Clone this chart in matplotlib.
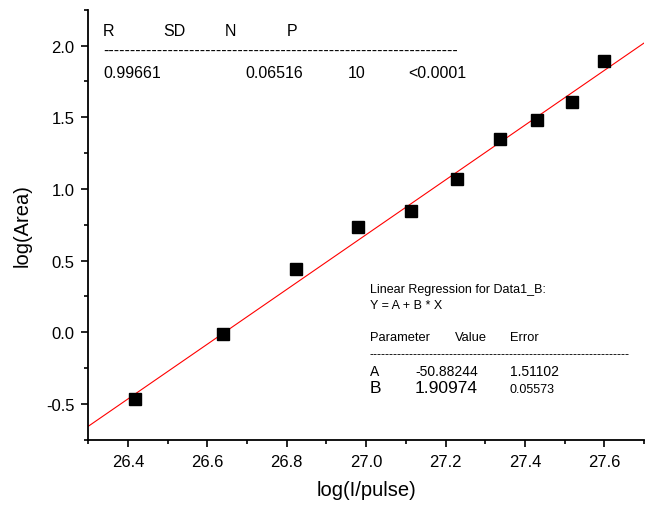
import numpy as np
import matplotlib
matplotlib.use('Agg')
from matplotlib import pyplot as plt
from matplotlib.ticker import MultipleLocator

plt.rcParams['font.family'] = ['Liberation Sans', 'DejaVu Sans']

# data
log_pulse = [26.417, 26.640, 26.824, 26.979, 27.112, 27.230, 27.336, 27.431, 27.519, 27.599]
log_area = [-0.467, -0.015, 0.441, 0.731, 0.849, 1.072, 1.350, 1.477, 1.604, 1.892]

# fit results shown on the chart
fit_A = -50.88244
fit_B = 1.90974
fit_A_err = 1.51102
fit_B_err = 0.05573
fit_R = 0.99661
fit_SD = 0.06516
fit_N = 10
fit_P = '<0.0001'

W, H = 646, 506
fig = plt.figure(figsize=(W / 100, H / 100), dpi=100)
ax = fig.add_axes([88.3 / W, 1 - 440.7 / H, (644 - 88.3) / W, (440.7 - 10.7) / H])

xlim = (26.3, 27.7)
ylim = (-0.75, 2.25)

xs = np.array(xlim)
ax.plot(xs, fit_A + fit_B * xs, color='red', lw=0.8, zorder=2)
ax.plot(log_pulse, log_area, 's', color='black', ms=8, zorder=3)

ax.set_xlim(*xlim)
ax.set_ylim(*ylim)
ax.xaxis.set_major_locator(MultipleLocator(0.2))
ax.xaxis.set_minor_locator(MultipleLocator(0.1))
ax.yaxis.set_major_locator(MultipleLocator(0.5))
ax.yaxis.set_minor_locator(MultipleLocator(0.25))
ax.xaxis.set_major_formatter(lambda v, p: f'{v:.1f}')
ax.yaxis.set_major_formatter(lambda v, p: f'{v:.1f}')

for s in ['top', 'right']:
    ax.spines[s].set_visible(False)
for s in ['left', 'bottom']:
    ax.spines[s].set_linewidth(1.3)
ax.tick_params(which='major', length=5, width=1.2, labelsize=12, pad=5)
ax.tick_params(which='minor', length=3, width=1.2)

ax.set_xlabel('log(I/pulse)', fontsize=14.5, labelpad=8)
ax.set_ylabel('log(Area)', fontsize=14.5, labelpad=10)


def ftext(x, y, s, size, **kw):
    fig.text(x / W, 1 - y / H, s, fontsize=size, va='center', ha='left', **kw)


# top statistics block
ftext(103, 32, 'R', 11.5)
ftext(163, 32, 'SD', 11.5)
ftext(225, 32, 'N', 11.5)
ftext(287, 32, 'P', 11.5)
ftext(103, 51, '-' * 66, 11.5)
ftext(103, 73, f'{fit_R:.5f}', 11.5)
ftext(245, 73, f'{fit_SD:.5f}', 11.5)
ftext(348, 73, f'{fit_N}', 11.5)
ftext(408, 73, fit_P, 11.5)

# regression parameter block
ftext(370, 290, 'Linear Regression for Data1_B:', 9)
ftext(370, 306, 'Y = A + B * X', 9)
ftext(370, 338, 'Parameter', 9.3)
ftext(455, 338, 'Value', 9.3)
ftext(510, 338, 'Error', 9.3)
ftext(370, 355, '-' * 65, 9)
ftext(370, 372, 'A', 10)
ftext(415, 372, f'{fit_A:.5f}', 10)
ftext(510, 372, f'{fit_A_err:.5f}', 10)
ftext(370, 389, 'B', 12.5)
ftext(415, 389, f'{fit_B:.5f}', 12.5)
ftext(510, 390, f'{fit_B_err:.5f}', 9)

fig.savefig('out.png', dpi=100)
